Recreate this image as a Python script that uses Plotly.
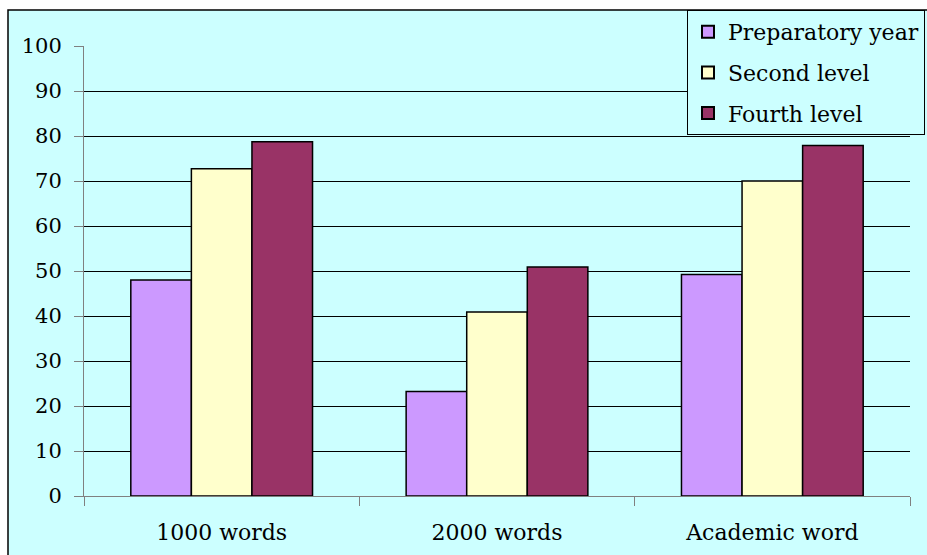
import plotly.graph_objects as go

categories = ["1000 words", "2000 words", "Academic word"]
series_names = ["Preparatory year", "Second level", "Fourth level"]
prep_values = [48.0, 23.2, 49.2]
second_values = [72.7, 40.9, 70.0]
fourth_values = [78.7, 50.9, 77.9]
colors = ["#CC99FF", "#FFFFCC", "#993366"]
y_ticks = [0, 10, 20, 30, 40, 50, 60, 70, 80, 90, 100]

W, H = 927, 555
L, R, T, B = 84, 17, 46, 59
pw = W - L - R
ph = H - T - B

def px_x(p):
    return (p - L) / pw

def px_y(p):
    return (H - B - p) / ph

FONT = "DejaVu Serif"

fig = go.Figure()
for name, vals, col in zip(series_names, [prep_values, second_values, fourth_values], colors):
    fig.add_trace(go.Bar(
        x=categories, y=vals, name=name, legendgroup=name,
        marker=dict(color=col, line=dict(color="black", width=1.5)),
    ))

fig.add_shape(type="rect", xref="paper", yref="paper",
              x0=px_x(8), x1=px_x(935), y0=px_y(565), y1=px_y(10),
              fillcolor="#CCFFFF", line=dict(color="black", width=1.5), layer="below")

fig.update_layout(
    width=W, height=H,
    margin=dict(l=L, r=R, t=T, b=B, pad=0, autoexpand=False),
    paper_bgcolor="white",
    plot_bgcolor="rgba(0,0,0,0)",
    barmode="group",
    bargap=0.34,
    bargroupgap=0,
    font=dict(family=FONT, size=21, color="black"),
    showlegend=True,
    legend=dict(
        x=px_x(687), y=px_y(10), xanchor="left", yanchor="top",
        bgcolor="#CCFFFF", bordercolor="black", borderwidth=1,
        font=dict(family=FONT, size=22, color="black"),
        traceorder="grouped", tracegroupgap=9,
        itemsizing="constant",
    ),
    xaxis=dict(
        showgrid=False, showline=True, linecolor="#808080", linewidth=1,
        ticks="outside", tickson="boundaries", ticklen=9, tickcolor="#808080",
        ticklabelstandoff=17, automargin=False,
        tickfont=dict(family=FONT, size=22),
    ),
    yaxis=dict(
        range=[0, 100], tickvals=y_ticks, showgrid=True, gridcolor="black", gridwidth=1,
        zeroline=False, showline=True, linecolor="#808080", linewidth=1,
        ticks="outside", ticklen=9, tickcolor="#808080",
        ticklabelstandoff=8, automargin=False,
        tickfont=dict(family=FONT, size=21),
    ),
)

fig.write_html("out.html")
